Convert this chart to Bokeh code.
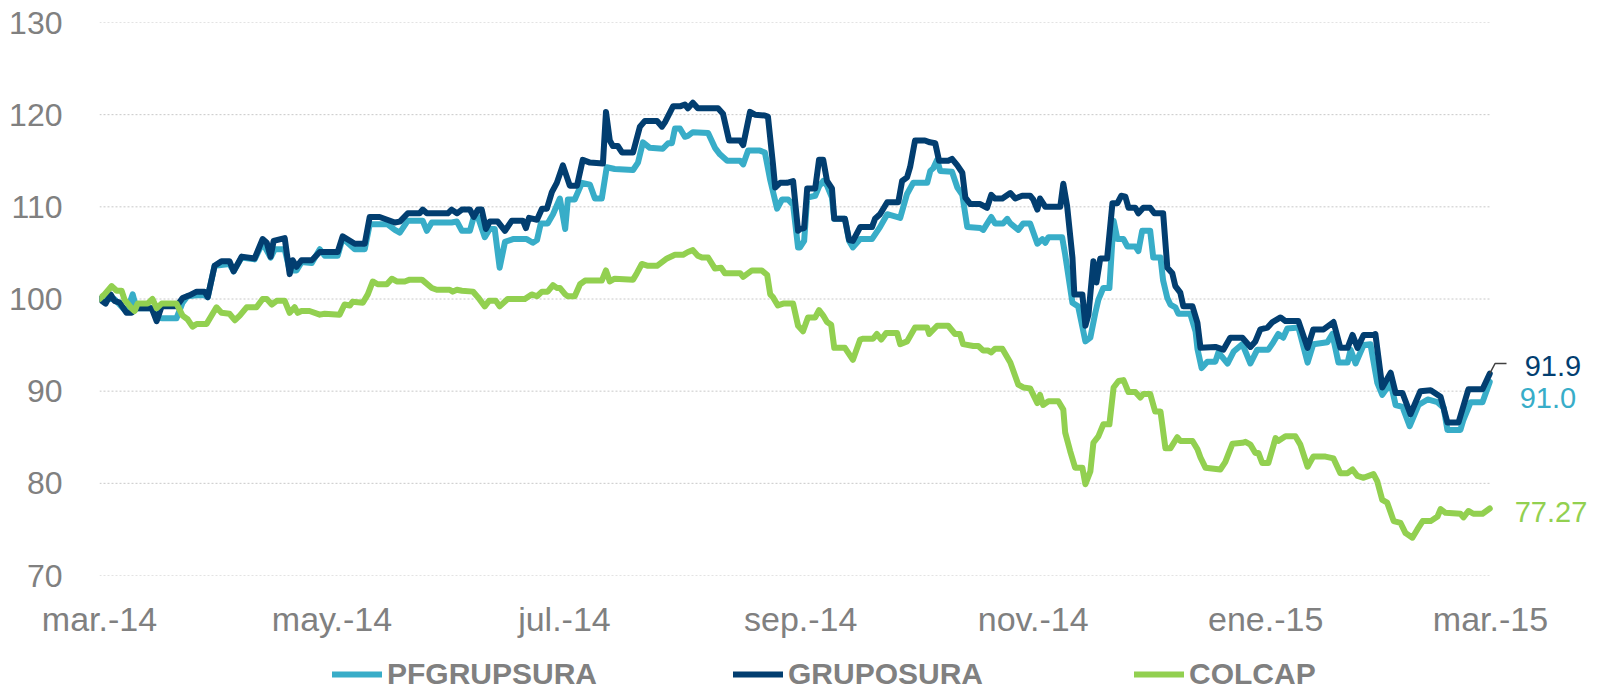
import pandas as pd
from bokeh.plotting import figure
from bokeh.layouts import column
from bokeh.models import (Legend, LegendItem, Label, FixedTicker,
                          CustomJSTickFormatter, Range1d)
from bokeh.embed import file_html
from bokeh.resources import INLINE

# ---------------- data (days since 1 Mar 2014, index value, base 100) -------------
start_date = "2014-03-01"

pfgrupsura_points = [
    (0.0, 100.0), (3.9, 100.0), (7.1, 98.6), (8.7, 100.5), (9.7, 99.0), (13.7, 99.0),
    (15.0, 98.0), (16.5, 97.9), (20.2, 97.9), (21.8, 99.6), (23.1, 100.3), (25.5, 100.4),
    (27.6, 100.4), (28.4, 100.2), (30.2, 103.6), (34.1, 103.8), (35.2, 103.0), (37.3, 104.5),
    (40.7, 104.3), (42.8, 106.1), (44.9, 104.5), (46.0, 105.4), (48.6, 105.4), (49.9, 103.1),
    (51.7, 103.1), (53.0, 104.0), (55.7, 103.9), (57.8, 105.4), (59.1, 104.7), (62.5, 104.7),
    (63.8, 106.6), (67.0, 105.4), (69.6, 105.4), (70.9, 108.1), (75.6, 108.1), (77.5, 107.5),
    (78.8, 107.2), (80.9, 108.5), (84.8, 108.5), (85.9, 107.4), (87.2, 108.3), (92.4, 108.3),
    (93.8, 108.4), (95.1, 107.4), (97.2, 107.4), (98.2, 108.9), (99.3, 108.9), (101.1, 106.7),
    (102.4, 107.6), (103.7, 107.6), (105.0, 103.4), (106.4, 106.2), (108.5, 106.5), (112.1, 106.5),
    (113.7, 106.1), (114.8, 106.4), (115.8, 108.2), (117.6, 108.2), (119.0, 109.2), (120.8, 110.9),
    (122.2, 107.6), (122.9, 110.8), (124.7, 110.8), (126.6, 112.6), (128.7, 112.4), (130.0, 110.9),
    (131.8, 110.9), (133.1, 114.3), (135.2, 114.1), (140.0, 114.0), (141.3, 114.8), (142.6, 117.0),
    (144.4, 116.4), (147.8, 116.3), (149.2, 116.9), (150.2, 116.9), (151.0, 118.5), (152.3, 118.5),
    (153.6, 117.6), (154.4, 117.7), (155.7, 118.1), (159.7, 118.0), (161.5, 116.4), (162.8, 115.7),
    (164.7, 115.0), (168.1, 115.0), (168.9, 114.6), (170.2, 116.1), (173.3, 116.1), (174.6, 115.9),
    (176.0, 112.9), (177.8, 109.8), (179.1, 110.8), (180.7, 110.8), (182.0, 110.2), (183.3, 105.6),
    (183.8, 105.6), (184.9, 106.3), (185.7, 111.0), (187.8, 111.2), (188.8, 112.2), (189.9, 112.8),
    (190.9, 112.3), (192.2, 111.0), (192.8, 108.7), (195.6, 108.7), (196.7, 106.3), (197.7, 105.6),
    (199.6, 106.5), (202.7, 106.5), (204.8, 107.8), (206.7, 109.2), (210.1, 108.8), (211.9, 111.4),
    (213.5, 112.6), (217.2, 112.6), (218.0, 113.9), (218.8, 114.2), (219.8, 115.1), (220.6, 113.9),
    (223.7, 113.8), (225.1, 112.1), (226.4, 111.3), (227.7, 107.8), (231.1, 107.7), (231.9, 107.5),
    (234.0, 108.9), (235.0, 108.2), (237.1, 108.2), (238.2, 108.7), (239.0, 108.2), (241.1, 107.5),
    (242.4, 108.2), (244.2, 108.2), (246.1, 106.0), (247.4, 106.5), (248.2, 106.1), (249.0, 106.7),
    (252.6, 106.7), (253.4, 104.8), (255.3, 99.6), (256.8, 99.2), (258.7, 95.4), (260.0, 95.8),
    (261.3, 98.5), (262.1, 99.9), (263.4, 101.2), (265.0, 101.2), (266.1, 108.5), (267.1, 106.5),
    (268.7, 106.5), (269.7, 105.7), (271.8, 105.7), (272.6, 105.2), (273.6, 107.4), (275.7, 107.4),
    (276.5, 104.5), (278.4, 104.5), (279.1, 102.0), (280.2, 100.1), (281.0, 99.4), (282.3, 99.1),
    (283.1, 98.4), (286.2, 98.4), (287.6, 96.5), (288.1, 94.6), (289.2, 92.5), (290.7, 93.2),
    (292.8, 93.2), (293.6, 94.2), (296.0, 93.0), (297.6, 94.3), (299.9, 95.1), (302.0, 93.0),
    (303.8, 94.5), (306.7, 94.5), (308.0, 95.3), (309.3, 96.2), (310.6, 95.8), (311.7, 96.8),
    (314.6, 96.9), (317.0, 93.1), (318.5, 95.1), (322.2, 95.3), (323.5, 96.2), (325.1, 93.1),
    (327.5, 93.1), (328.3, 94.5), (329.6, 93.0), (331.7, 95.0), (333.5, 95.1), (335.3, 90.9),
    (336.6, 89.6), (338.8, 90.9), (340.1, 88.5), (341.9, 88.3), (343.8, 86.2), (346.1, 88.5),
    (348.5, 89.1), (351.1, 88.8), (352.7, 88.2), (353.7, 85.8), (357.1, 85.8), (357.9, 86.9),
    (359.8, 88.8), (362.9, 88.8), (364.8, 91.0),
]

gruposura_points = [
    (0.0, 100.0), (1.6, 99.5), (2.9, 100.5), (3.9, 99.8), (5.3, 99.6), (7.1, 98.5),
    (8.4, 98.5), (9.7, 99.0), (13.7, 99.0), (15.0, 97.6), (16.3, 99.2), (20.2, 99.2),
    (21.8, 100.1), (23.6, 100.4), (25.5, 100.8), (27.6, 100.8), (28.4, 100.2), (30.2, 103.6),
    (32.0, 104.1), (34.1, 104.1), (35.2, 103.0), (37.3, 104.6), (40.7, 104.4), (42.8, 106.5),
    (43.9, 106.1), (44.9, 104.6), (45.7, 106.3), (48.6, 106.6), (49.9, 102.7), (50.7, 104.2),
    (51.7, 103.5), (53.0, 104.2), (55.7, 104.2), (57.8, 105.1), (62.5, 105.1), (63.8, 106.8),
    (67.0, 106.0), (69.6, 106.0), (70.9, 108.9), (73.5, 108.9), (77.5, 108.3), (78.8, 108.4),
    (80.9, 109.3), (84.0, 109.3), (84.8, 109.7), (85.9, 109.3), (91.4, 109.3), (92.4, 109.7),
    (93.8, 109.3), (95.1, 109.7), (97.2, 109.7), (98.2, 108.9), (99.3, 109.7), (100.3, 109.7),
    (101.4, 107.6), (102.4, 108.4), (104.5, 108.4), (106.4, 107.4), (108.2, 108.5), (111.1, 108.5),
    (111.9, 107.7), (112.7, 108.8), (114.8, 108.6), (116.1, 109.8), (117.4, 109.8), (118.7, 111.6),
    (120.0, 112.6), (121.6, 114.5), (123.4, 112.3), (125.3, 112.3), (126.8, 115.1), (128.7, 114.8),
    (132.1, 114.7), (132.9, 120.3), (133.9, 117.2), (134.7, 116.6), (136.0, 116.6), (137.1, 115.9),
    (140.0, 115.9), (141.8, 118.7), (143.1, 119.3), (146.3, 119.3), (147.6, 118.7), (148.4, 119.2),
    (150.5, 120.9), (152.3, 120.9), (153.6, 121.1), (154.4, 120.7), (155.7, 121.3), (157.0, 120.7),
    (162.3, 120.7), (163.6, 120.1), (165.2, 117.2), (168.1, 117.2), (168.9, 116.7), (170.7, 120.3),
    (172.0, 120.0), (174.6, 119.9), (175.4, 119.8), (176.7, 114.7), (177.3, 112.1), (178.6, 112.6),
    (180.4, 112.6), (182.0, 112.8), (183.3, 107.4), (183.8, 107.6), (184.9, 107.7), (185.7, 112.0),
    (187.8, 112.0), (188.8, 115.1), (189.9, 115.1), (190.9, 112.8), (192.2, 112.0), (192.8, 108.7),
    (195.6, 108.7), (196.7, 106.4), (197.7, 106.3), (199.6, 107.8), (202.7, 107.8), (203.5, 108.7),
    (204.8, 109.2), (206.7, 110.5), (209.6, 110.5), (210.6, 112.8), (211.9, 113.2), (212.7, 114.3),
    (214.0, 117.2), (216.6, 117.2), (217.9, 117.0), (219.3, 116.9), (220.3, 115.0), (222.7, 115.0),
    (223.7, 115.2), (225.1, 114.5), (226.4, 113.7), (227.2, 111.0), (228.5, 110.3), (231.1, 110.3),
    (232.9, 109.9), (234.0, 111.3), (235.0, 110.9), (236.9, 110.9), (239.0, 111.5), (240.3, 110.9),
    (242.1, 111.2), (244.2, 111.2), (245.0, 110.8), (246.1, 109.7), (246.8, 110.9), (248.2, 110.0),
    (252.1, 110.0), (252.9, 112.5), (253.9, 110.1), (255.3, 104.5), (255.8, 100.5), (257.9, 100.5),
    (258.7, 97.1), (259.5, 98.3), (260.8, 104.1), (261.6, 101.8), (262.6, 104.4), (264.4, 104.4),
    (265.8, 110.4), (267.1, 110.4), (268.1, 111.2), (269.2, 111.1), (270.0, 109.9), (271.8, 109.9),
    (272.6, 109.3), (273.9, 109.9), (275.7, 109.9), (276.8, 109.3), (279.1, 109.3), (280.2, 103.4),
    (281.5, 102.8), (282.3, 101.4), (283.6, 100.7), (284.4, 99.2), (286.8, 99.2), (288.1, 97.4),
    (288.9, 94.7), (292.8, 94.8), (294.9, 94.5), (296.7, 95.8), (299.9, 95.8), (302.0, 94.8),
    (303.3, 95.4), (304.6, 96.7), (306.5, 96.9), (307.8, 97.5), (309.9, 98.0), (311.2, 97.6),
    (314.6, 97.6), (317.0, 94.7), (318.5, 96.7), (321.2, 96.7), (323.8, 97.5), (325.6, 94.7),
    (327.5, 94.7), (328.8, 96.1), (330.1, 94.7), (331.7, 96.1), (334.3, 96.1), (334.8, 96.2),
    (336.6, 90.4), (338.8, 92.0), (340.1, 89.8), (341.9, 89.8), (344.0, 87.5), (346.6, 90.0),
    (349.3, 90.1), (351.9, 89.4), (353.7, 86.6), (356.6, 86.6), (359.2, 90.2), (362.9, 90.2),
    (364.8, 91.9),
]

colcap_points = [
    (0.0, 100.0), (1.3, 100.5), (3.2, 101.4), (4.5, 100.9), (5.8, 100.9), (6.6, 99.9),
    (8.4, 99.0), (9.2, 98.7), (10.0, 99.5), (12.6, 99.5), (13.9, 100.0), (15.0, 99.0),
    (16.3, 99.5), (20.2, 99.5), (21.8, 98.2), (23.1, 97.8), (24.4, 97.0), (25.5, 97.3),
    (28.1, 97.3), (30.7, 99.1), (32.0, 98.5), (34.1, 98.4), (35.5, 97.7), (36.8, 98.2),
    (38.6, 99.1), (41.2, 99.1), (42.8, 100.0), (43.9, 100.0), (45.2, 99.4), (46.5, 99.8),
    (48.6, 99.8), (49.9, 98.5), (51.2, 99.1), (52.0, 98.5), (53.0, 98.7), (55.1, 98.7),
    (57.8, 98.3), (59.1, 98.4), (63.0, 98.3), (64.3, 99.4), (65.7, 99.3), (66.4, 99.7),
    (69.1, 99.6), (70.4, 100.5), (71.7, 101.9), (73.0, 101.6), (75.4, 101.6), (76.7, 102.2),
    (78.0, 101.9), (80.1, 101.9), (81.4, 102.1), (84.6, 102.1), (87.2, 101.2), (88.5, 101.0),
    (91.9, 101.0), (92.7, 100.8), (93.8, 101.0), (95.1, 100.9), (98.0, 100.8), (99.3, 100.2),
    (101.1, 99.2), (102.2, 99.8), (104.0, 99.8), (105.0, 99.2), (107.1, 100.0), (111.6, 100.0),
    (113.4, 100.5), (114.8, 100.3), (116.1, 100.8), (117.6, 100.8), (119.0, 101.5), (120.0, 101.2),
    (120.8, 101.2), (122.2, 100.5), (122.9, 100.3), (124.7, 100.3), (126.1, 101.6), (127.4, 102.0),
    (131.8, 102.0), (132.9, 103.1), (133.9, 101.9), (135.2, 102.2), (140.0, 102.1), (141.0, 102.8),
    (142.3, 103.8), (143.9, 103.6), (146.3, 103.6), (148.9, 104.4), (151.0, 104.8), (153.1, 104.8),
    (154.4, 105.1), (155.7, 105.3), (157.0, 104.7), (158.1, 104.5), (159.7, 104.5), (161.5, 103.3),
    (163.1, 103.4), (164.1, 102.8), (168.1, 102.8), (168.9, 102.4), (171.2, 103.1), (173.8, 103.1),
    (175.2, 102.6), (176.0, 100.5), (176.7, 100.2), (178.0, 99.3), (179.4, 99.5), (182.0, 99.5),
    (183.3, 97.1), (184.6, 96.5), (185.9, 98.0), (187.8, 98.0), (188.8, 98.8), (189.9, 98.2),
    (190.9, 97.5), (192.0, 97.2), (192.8, 94.7), (195.6, 94.7), (197.7, 93.4), (199.6, 95.6),
    (200.4, 95.7), (203.0, 95.7), (204.0, 96.2), (205.1, 95.6), (206.4, 96.3), (209.3, 96.3),
    (210.1, 95.1), (211.9, 95.4), (214.0, 96.9), (217.2, 96.9), (217.7, 96.2), (219.8, 97.1),
    (222.7, 97.1), (224.5, 96.2), (225.8, 96.2), (226.6, 95.1), (229.3, 94.9), (230.6, 94.9),
    (231.9, 94.4), (233.2, 94.4), (234.0, 94.2), (235.0, 94.6), (236.9, 94.6), (239.0, 93.1),
    (241.1, 90.7), (242.4, 90.4), (244.2, 90.3), (246.1, 88.7), (246.8, 89.6), (247.6, 88.5),
    (249.0, 88.9), (251.6, 88.9), (252.9, 88.0), (253.4, 85.5), (254.7, 83.5), (256.0, 81.7),
    (257.9, 81.7), (258.7, 79.9), (260.0, 81.3), (260.8, 84.4), (262.1, 85.1), (263.4, 86.4),
    (265.0, 86.4), (266.1, 90.4), (267.4, 91.1), (268.7, 91.2), (270.0, 89.9), (271.8, 89.9),
    (273.1, 89.3), (273.9, 89.7), (275.7, 89.7), (277.0, 87.8), (278.4, 87.8), (279.7, 83.8),
    (281.0, 83.8), (282.8, 85.0), (283.6, 84.6), (286.8, 84.6), (288.1, 83.7), (288.9, 82.8),
    (290.2, 81.7), (294.1, 81.5), (295.4, 82.3), (297.3, 84.3), (299.9, 84.4), (300.7, 84.5),
    (302.0, 84.2), (303.3, 83.3), (304.1, 83.3), (305.1, 82.2), (306.7, 82.2), (308.6, 84.9),
    (309.3, 84.6), (311.2, 85.1), (313.8, 85.1), (315.1, 84.2), (317.0, 81.8), (318.5, 82.9),
    (321.7, 82.9), (323.8, 82.7), (325.6, 81.1), (327.5, 81.1), (328.8, 81.5), (330.1, 80.8),
    (331.7, 80.6), (334.3, 81.0), (335.3, 80.2), (336.6, 78.2), (337.9, 77.9), (339.6, 75.9),
    (341.4, 75.7), (342.7, 74.6), (344.5, 74.1), (345.8, 75.0), (347.2, 75.9), (349.3, 75.9),
    (351.1, 76.4), (351.9, 77.2), (353.2, 76.8), (357.1, 76.7), (357.9, 76.3), (359.2, 77.0),
    (360.5, 76.7), (362.9, 76.7), (364.8, 77.27),
]

series_names = ["PFGRUPSURA", "GRUPOSURA", "COLCAP"]
series_colors = ["#38ADC8", "#023E70", "#92D050"]
end_label_formats = ["{:.1f}", "{:.1f}", "{:.2f}"]

tick_dates = ["2014-03-01", "2014-05-01", "2014-07-01", "2014-09-01",
              "2014-11-01", "2015-01-01", "2015-03-01"]
tick_labels = ["mar.-14", "may.-14", "jul.-14", "sep.-14", "nov.-14", "ene.-15", "mar.-15"]
y_ticks = [70, 80, 90, 100, 110, 120, 130]

# ---------------- layout constants ---------------------------------------------------
W = 1600
H_MAIN = 648
H_LEG = 45
FRAME_LEFT = 99
AXIS_END_PX = 1490          # where the time axis (mar.-15) ends
TEXT = "#808080"
FONT = "Liberation Sans, Arial, sans-serif"
LINE_W = 6

base = pd.Timestamp(start_date)
t0 = pd.Timestamp(tick_dates[0])
t1 = pd.Timestamp(tick_dates[-1])
px_per_day = (AXIS_END_PX - FRAME_LEFT) / (t1 - t0).days
x_end = t1 + pd.Timedelta(days=(W - AXIS_END_PX) / px_per_day)


def to_dates(points):
    return [base + pd.Timedelta(days=d) for d, _ in points], [v for _, v in points]


p = figure(width=W, height=H_MAIN, output_backend="svg", toolbar_location=None,
           x_axis_type="datetime",
           x_range=Range1d(t0, x_end), y_range=Range1d(70, 130),
           min_border_left=FRAME_LEFT, min_border_right=0, min_border_top=22,
           min_border_bottom=H_MAIN - 575)
p.outline_line_color = None
p.background_fill_color = "white"
p.border_fill_color = "white"

tick_ms = [pd.Timestamp(t).value // 10**6 for t in tick_dates]
p.xaxis.ticker = FixedTicker(ticks=tick_ms)
p.xaxis.formatter = CustomJSTickFormatter(
    args=dict(tick_vals=tick_ms, tick_names=tick_labels), code="""
    for (let i = 0; i < tick_vals.length; i++) {
        if (Math.abs(tick_vals[i] - tick) < 1000) { return tick_names[i]; }
    }
    return "";
""")
p.yaxis.ticker = FixedTicker(ticks=y_ticks)

for ax in (p.xaxis[0], p.yaxis[0]):
    ax.axis_line_color = None
    ax.major_tick_line_color = None
    ax.minor_tick_line_color = None
    ax.major_tick_out = 0
    ax.major_tick_in = 0
    ax.minor_tick_out = 0
    ax.major_label_text_color = TEXT
    ax.major_label_text_font = FONT
p.xaxis.major_label_text_font_size = "34px"
p.yaxis.major_label_text_font_size = "32px"
p.xaxis.major_label_standoff = 24
p.yaxis.major_label_standoff = 37

p.xgrid.grid_line_color = None
p.ygrid.grid_line_color = None

# dotted horizontal gridlines spanning only the time axis
p.segment(x0=[t0] * len(y_ticks), x1=[t1] * len(y_ticks), y0=y_ticks, y1=y_ticks,
          line_color="#C8C8C8", line_dash="2 2", line_width=1)

renderers = []
all_points = [pfgrupsura_points, gruposura_points, colcap_points]
for pts, col in zip(all_points, series_colors):
    xs, ys = to_dates(pts)
    r = p.line(xs, ys, line_color=col, line_width=LINE_W, line_join="round", line_cap="round")
    renderers.append(r)

# leader line for GRUPOSURA end label
gx, gy = to_dates(gruposura_points)
p.line([gx[-1], gx[-1] + pd.Timedelta(days=1.4), gx[-1] + pd.Timedelta(days=4.4)],
       [gy[-1], gy[-1] + 1.1, gy[-1] + 1.1], line_color="#404040", line_width=1.5)

# end labels
offsets = [(30, -16), (35, 7.5), (25, -3.5)]
for pts, col, fmt, (dx, dy) in zip(all_points, series_colors, end_label_formats, offsets):
    xs, ys = to_dates(pts)
    p.add_layout(Label(x=xs[-1], y=ys[-1], x_offset=dx, y_offset=dy,
                       text=fmt.format(ys[-1]), text_color=col, text_font=FONT,
                       text_font_size="29px", text_baseline="middle", text_align="left"))

# ---------------- legend strip -------------------------------------------------------
q = figure(width=W, height=H_LEG, output_backend="svg", toolbar_location=None,
           x_axis_location=None, y_axis_location=None,
           x_range=Range1d(0, 1), y_range=Range1d(0, 1),
           min_border_left=0, min_border_right=0, min_border_top=0, min_border_bottom=0)
q.outline_line_color = None
q.xgrid.grid_line_color = None
q.ygrid.grid_line_color = None
nan = float("nan")
leg_renderers = [q.line(x=[nan], y=[nan], line_color=c, line_width=LINE_W, line_cap="round")
                 for c in series_colors]
legend = Legend(items=[LegendItem(label=n, renderers=[r])
                       for n, r in zip(series_names, leg_renderers)],
                location=(233, 2), orientation="horizontal",
                glyph_width=50, glyph_height=30, label_height=30, label_width=212,
                label_standoff=5, spacing=134, padding=0, margin=0,
                border_line_alpha=0, background_fill_alpha=0,
                label_text_font=FONT, label_text_font_size="30px",
                label_text_font_style="bold", label_text_color=TEXT)
q.add_layout(legend, "center")

layout = column(p, q, spacing=0)
open("out.html", "w").write(file_html(layout, INLINE))
